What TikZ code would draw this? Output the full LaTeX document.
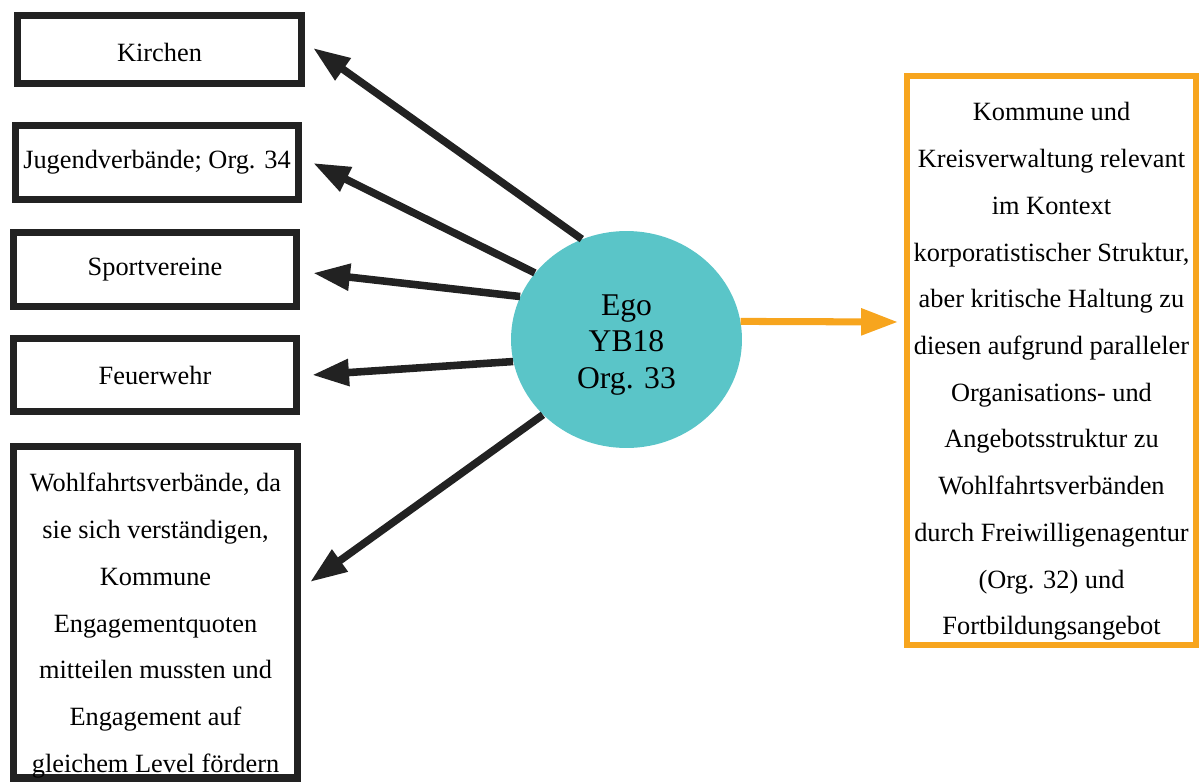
\documentclass[tikz,border=0pt]{standalone}
\usepackage{fontspec}
\setmainfont{Liberation Serif}
\usetikzlibrary{arrows.meta,shapes.geometric}

\definecolor{inkgray}{RGB}{34,34,34}
\definecolor{egoteal}{RGB}{90,197,200}
\definecolor{linkorange}{RGB}{247,165,30}

\begin{document}
\begin{tikzpicture}[x=0.02cm, y=-0.02cm,
  actor/.style={draw=inkgray, line width=4.1pt, fill=white, inner sep=0pt,
    align=center, font=\fontsize{15}{26.6}\selectfont},
  egonode/.style={ellipse, fill=egoteal, inner sep=0pt,
    minimum width=4.62cm, minimum height=4.34cm, align=center,
    font=\fontsize{18}{21}\selectfont},
  context/.style={draw=linkorange, line width=3.4pt, fill=white, inner sep=0pt,
    align=center, font=\fontsize{15}{26.6}\selectfont},
  tie/.style={draw=inkgray, line width=4.3pt,
    -{Triangle[length=21pt, width=14.5pt]}},
  orangetie/.style={draw=linkorange, line width=4pt,
    -{Triangle[length=21pt, width=14.5pt]}}]

\useasboundingbox (0,0) rectangle (1200,781);

% actors on the left
\node[actor, minimum width=5.68cm, minimum height=1.36cm] (kirchen) at (159.5,49.5) {\rule{0pt}{13.5pt}Kirchen};
\node[actor, minimum width=5.66cm, minimum height=1.48cm] (jugend) at (157,162.5) {Jugendverbände; Org. 34};
\node[actor, minimum width=5.66cm, minimum height=1.48cm] (sport) at (155,269.5) {Sportvereine};
\node[actor, minimum width=5.66cm, minimum height=1.46cm] (feuer) at (155,375) {Feuerwehr};
\node[actor, minimum width=5.68cm, minimum height=6.62cm] (wohl) at (155.5,612)
  {\rule{0pt}{26pt}Wohlfahrtsverbände, da\\sie sich verständigen,\\Kommune\\Engagementquoten\\mitteilen mussten und\\Engagement auf\\gleichem Level fördern};

% ego
\node[egonode] (ego) at (626.5,339.5) {\rule{0pt}{18pt}Ego\\YB18\\Org. 33};

% context box on the right
\node[context, minimum width=5.78cm, minimum height=11.38cm] (kommune) at (1051.5,360.5)
  {\rule{0pt}{23pt}Kommune und\\Kreisverwaltung relevant\\im Kontext\\korporatistischer Struktur,\\aber kritische Haltung zu\\diesen aufgrund paralleler\\Organisations- und\\Angebotsstruktur zu\\Wohlfahrtsverbänden\\durch Freiwilligenagentur\\(Org. 32) und\\Fortbildungsangebot};

% ties from ego
\draw[tie] (ego.114.1) -- ([shift={(8,-1.5)}]kirchen.east);
\draw[tie] (ego.144.5) -- ([shift={(11,0.5)}]jugend.east);
\draw[tie] (ego.158.4) -- ([shift={(13,3.5)}]sport.east);
\draw[tie] (ego.191.9) -- ([shift={(12,0)}]feuer.east);
\draw[tie] (ego.222.9) -- ([shift={(9,-30)}]wohl.east);
\draw[orangetie] (ego.9.1) -- ([shift={(-6,-38.5)}]kommune.west);

\end{tikzpicture}
\end{document}
